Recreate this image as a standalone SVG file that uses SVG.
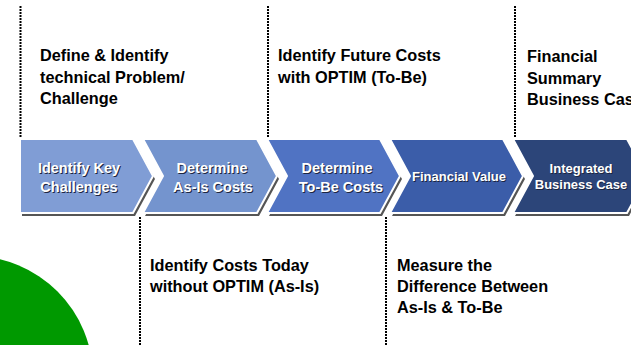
<svg xmlns="http://www.w3.org/2000/svg" width="631" height="345" viewBox="0 0 631 345">
<style>
.dot{stroke:#000;stroke-width:2;stroke-dasharray:2 1;fill:none}
.sh{fill:#555}
.ch{stroke:#fff;stroke-width:2;stroke-linejoin:miter}
.lbl{font-family:"Liberation Sans",Arial,sans-serif;font-weight:bold;font-size:16.3px;fill:#000}
.ct{font-family:"Liberation Sans",Arial,sans-serif;font-weight:bold;text-anchor:middle;fill:#fff}
.cs{font-family:"Liberation Sans",Arial,sans-serif;font-weight:bold;text-anchor:middle;fill:#1c2540}
.big{font-size:14.5px}
.sm{font-size:13px}
</style>
<rect width="631" height="345" fill="#fff"/>
<circle cx="-28" cy="377" r="121" fill="#009900"/>
<g id="connectors">
<line class="dot" x1="20.5" y1="6" x2="20.5" y2="137"/>
<line class="dot" x1="268" y1="6" x2="268" y2="137"/>
<line class="dot" x1="515" y1="6" x2="515" y2="137"/>
<line class="dot" x1="140" y1="217" x2="140" y2="345"/>
<line class="dot" x1="386" y1="217" x2="386" y2="345"/>
</g>
<g id="step1">
<path class="sh" transform="translate(2,3)" d="M20,139 L133,139 L153,176 L133,213 L20,213 Z"/>
<path class="ch" fill="#809DD5" d="M20,139 L133,139 L153,176 L133,213 L20,213 Z"/>
<text class="cs big" x="80" y="174">Identify Key</text>
<text class="ct big" x="79" y="173">Identify Key</text>
<text class="cs big" x="80" y="193">Challenges</text>
<text class="ct big" x="79" y="192">Challenges</text>
</g>
<g id="step2">
<path class="sh" transform="translate(2,3)" d="M143,139 L257,139 L277,176 L257,213 L143,213 L163,176 Z"/>
<path class="ch" fill="#7494CE" d="M143,139 L257,139 L277,176 L257,213 L143,213 L163,176 Z"/>
<text class="cs big" x="213" y="174">Determine</text>
<text class="ct big" x="212" y="173">Determine</text>
<text class="cs big" x="214" y="193">As-Is Costs</text>
<text class="ct big" x="213" y="192">As-Is Costs</text>
</g>
<g id="step3">
<path class="sh" transform="translate(2,3)" d="M267,139 L380,139 L400,176 L380,213 L267,213 L287,176 Z"/>
<path class="ch" fill="#5073C3" d="M267,139 L380,139 L400,176 L380,213 L267,213 L287,176 Z"/>
<text class="cs big" x="338" y="174">Determine</text>
<text class="ct big" x="337" y="173">Determine</text>
<text class="cs big" x="342" y="193">To-Be Costs</text>
<text class="ct big" x="341" y="192">To-Be Costs</text>
</g>
<g id="step4">
<path class="sh" transform="translate(2,3)" d="M390,139 L503,139 L523,176 L503,213 L390,213 L410,176 Z"/>
<path class="ch" fill="#3B5DA9" d="M390,139 L503,139 L523,176 L503,213 L390,213 L410,176 Z"/>
<text class="cs sm" x="460" y="182">Financial Value</text>
<text class="ct sm" x="459" y="181">Financial Value</text>
</g>
<g id="step5">
<path class="sh" transform="translate(2,3)" d="M513,139 L627,139 L647,176 L627,213 L513,213 L533,176 Z"/>
<path class="ch" fill="#2C4579" d="M513,139 L627,139 L647,176 L627,213 L513,213 L533,176 Z"/>
<text class="cs sm" x="582" y="174">Integrated</text>
<text class="ct sm" x="581" y="173">Integrated</text>
<text class="cs sm" x="582" y="190">Business Case</text>
<text class="ct sm" x="581" y="189">Business Case</text>
</g>
<g id="note1">
<text class="lbl" x="40" y="61">Define &amp; Identify</text>
<text class="lbl" x="40" y="82.5">technical Problem/</text>
<text class="lbl" x="40" y="104">Challenge</text>
</g>
<g id="note2">
<text class="lbl" x="278" y="61">Identify Future Costs</text>
<text class="lbl" x="278" y="82.5">with OPTIM (To-Be)</text>
</g>
<g id="note3">
<text class="lbl" x="527" y="62">Financial</text>
<text class="lbl" x="527" y="83.5">Summary</text>
<text class="lbl" x="527" y="105">Business Case</text>
</g>
<g id="note4">
<text class="lbl" x="150" y="271">Identify Costs Today</text>
<text class="lbl" x="150" y="292">without OPTIM (As-Is)</text>
</g>
<g id="note5">
<text class="lbl" x="397" y="271">Measure the</text>
<text class="lbl" x="397" y="292">Difference Between</text>
<text class="lbl" x="397" y="313">As-Is &amp; To-Be</text>
</g>
</svg>
